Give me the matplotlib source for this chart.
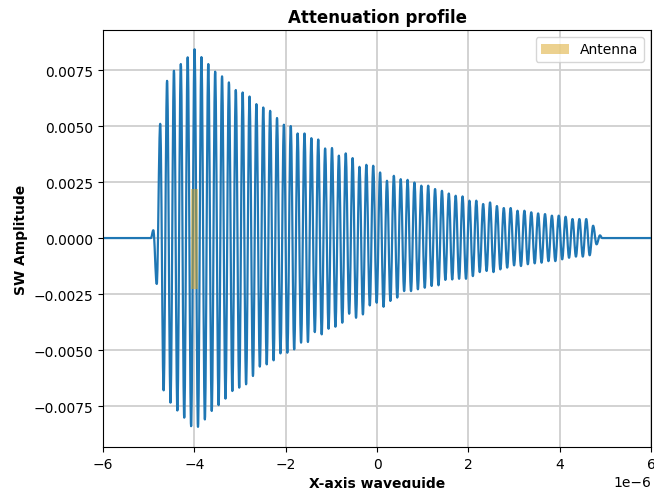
import numpy as np
import matplotlib
matplotlib.use("Agg")
import matplotlib.pyplot as plt
from matplotlib.patches import Rectangle, PathPatch
from matplotlib.path import Path

# Successive extrema of the spin-wave signal (alternating sign)
extrema = [
    0.00035, -0.00205, 0.00510, -0.00680, 0.00702, -0.00735, 0.00747, -0.00770,
    0.00777, -0.00802, 0.00807, -0.00840, 0.00843, -0.00843, 0.00808, -0.00810,
    0.00777, -0.00772, 0.00743, -0.00746, 0.00722, -0.00717, 0.00695, -0.00683,
    0.00661, -0.00668, 0.00650, -0.00653, 0.00632, -0.00616, 0.00598, -0.00574,
    0.00583, -0.00564, 0.00568, -0.00546, 0.00536, -0.00515, 0.00506, -0.00512,
    0.00500, -0.00497, 0.00467, -0.00467, 0.00467, -0.00464, 0.00446, -0.00420,
    0.00440, -0.00430, 0.00400, -0.00405, 0.00402, -0.00396, 0.00368, -0.00378,
    0.00378, -0.00338, 0.00357, -0.00356, 0.00318, -0.00341, 0.00327, -0.00301,
    0.00323, -0.00289, 0.00293, -0.00307, 0.00256, -0.00281, 0.00278, -0.00266,
    0.00263, -0.00237, 0.00260, -0.00237, 0.00248, -0.00229, 0.00234, -0.00222,
    0.00234, -0.00214, 0.00219, -0.00211, 0.00211, -0.00187, 0.00199, -0.00185,
    0.00189, -0.00182, 0.00186, -0.00182, 0.00167, -0.00170, 0.00167, -0.00152,
    0.00152, -0.00147, 0.00159, -0.00152, 0.00143, -0.00140, 0.00134, -0.00132,
    0.00134, -0.00122, 0.00122, -0.00125, 0.00122, -0.00117, 0.00115, -0.00113,
    0.00110, -0.00110, 0.00107, -0.00103, 0.00100, -0.00103, 0.00100, -0.00095,
    0.00095, -0.00088, 0.00085, -0.00083, 0.00085, -0.00083, 0.00085, -0.00077,
    0.00055, -0.00028, 0.00012,
]
x_first_extremum = -4.898e-6
x_last_extremum = 4.883e-6
x_signal_start = -4.95e-6
x_signal_end = 4.93e-6
x_range = (-6e-6, 6e-6)

antenna_x = (-4.08e-6, -3.92e-6)
antenna_y = (-0.00227, 0.00220)

# Positions of the data points
x_ext = np.linspace(x_first_extremum, x_last_extremum, len(extrema))
x_pts = np.concatenate([[x_signal_start], x_ext, [x_signal_end]])
y_pts = np.concatenate([[0.0], extrema, [0.0]])

# Smooth path through the points: cubic Bezier segments with flat tangents at extrema
verts = [(x_range[0], 0.0), (x_pts[0], 0.0)]
codes = [Path.MOVETO, Path.LINETO]
k = 0.37
for i in range(len(x_pts) - 1):
    x0, y0, x1, y1 = x_pts[i], y_pts[i], x_pts[i + 1], y_pts[i + 1]
    h = x1 - x0
    verts += [(x0 + k * h, y0), (x1 - k * h, y1), (x1, y1)]
    codes += [Path.CURVE4] * 3
verts.append((x_range[1], 0.0))
codes.append(Path.LINETO)

fig = plt.figure(figsize=(6.54, 4.89), dpi=100)
ax = fig.add_axes([103 / 654, 41 / 489, 548 / 654, 417 / 489])

ax.add_patch(PathPatch(Path(verts, codes), facecolor="none", edgecolor="#1f77b4",
                       linewidth=1.6, capstyle="round", joinstyle="round", zorder=2))
ax.add_patch(Rectangle((antenna_x[0], antenna_y[0]), antenna_x[1] - antenna_x[0],
                       antenna_y[1] - antenna_y[0], color="goldenrod", alpha=0.5,
                       linewidth=0, label="Antenna", zorder=3))

ax.set_xlim(*x_range)
ax.set_ylim(-0.00933, 0.00929)
ax.grid(True, color="#cfcfcf", linewidth=1.3)
ax.set_axisbelow(True)
ax.set_title("Attenuation profile", fontweight="bold")
ax.set_xlabel("X-axis waveguide", fontweight="bold")
ax.set_ylabel("SW Amplitude", fontweight="bold")
ax.legend(loc="upper right")

fig.savefig("out.png", dpi=100)
